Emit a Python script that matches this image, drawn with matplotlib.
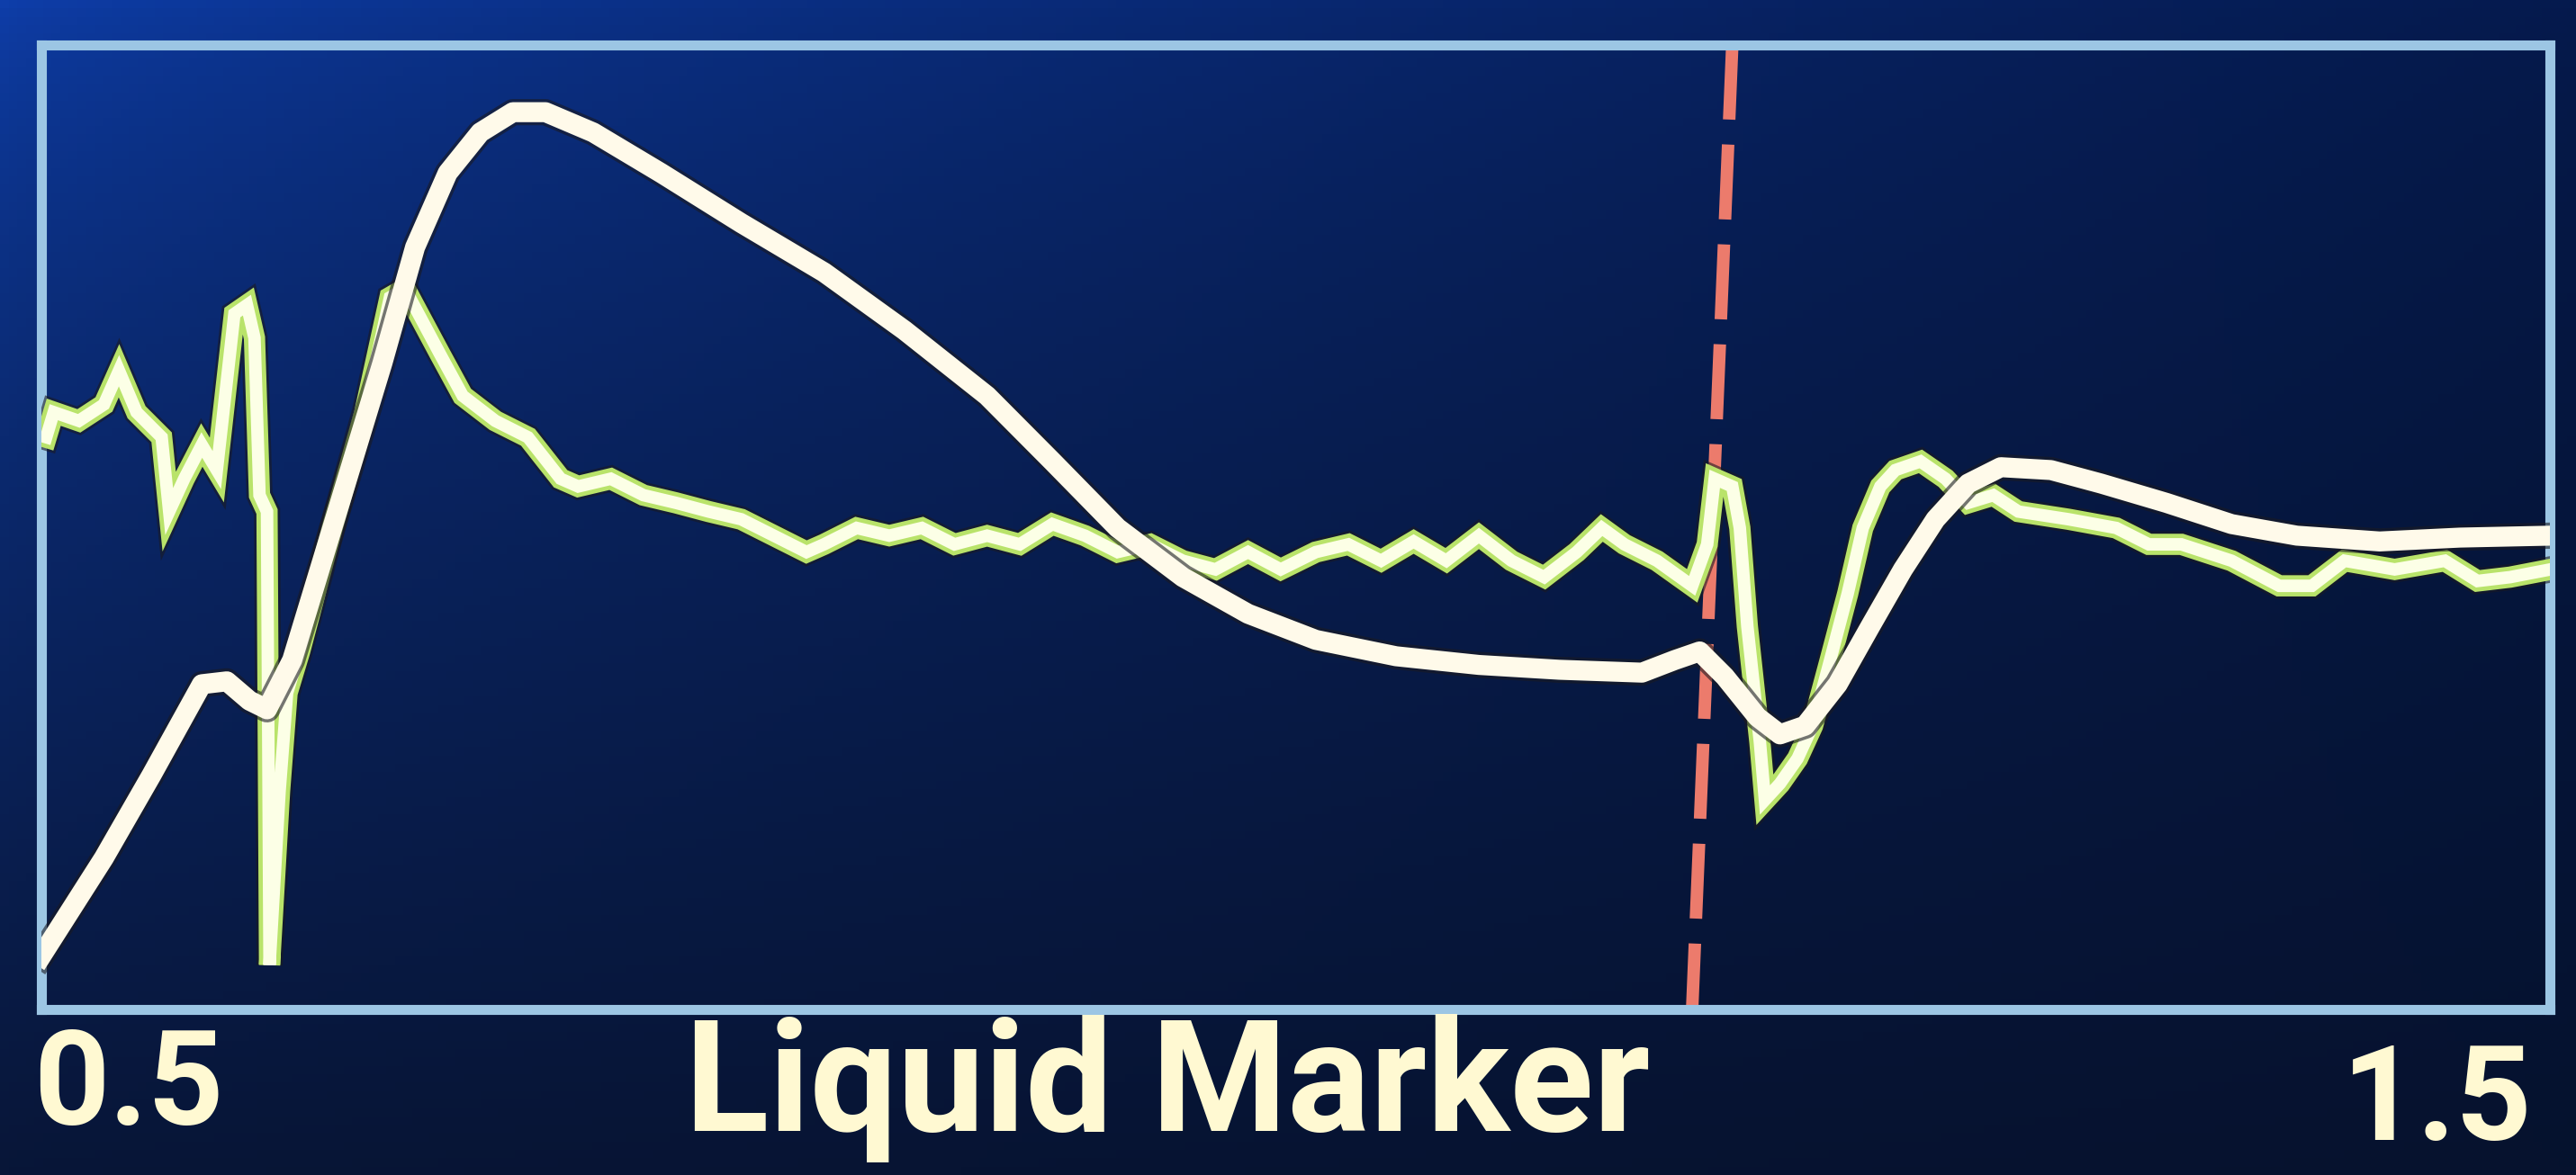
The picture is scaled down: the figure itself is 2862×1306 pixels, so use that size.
import matplotlib.pyplot as plt
import matplotlib.patheffects as pe
import numpy as np

# smooth reference trace (cream white)
ref_x = [0.500, 0.525, 0.544, 0.564, 0.574, 0.583, 0.590, 0.600, 0.616, 0.636,
         0.649, 0.662, 0.675, 0.688, 0.701, 0.720, 0.747, 0.779, 0.812, 0.844,
         0.877, 0.903, 0.929, 0.955, 0.981, 1.008, 1.040, 1.073, 1.105, 1.138,
         1.151, 1.161, 1.171, 1.184, 1.193, 1.203, 1.216, 1.229, 1.242, 1.255,
         1.268, 1.281, 1.301, 1.321, 1.347, 1.373, 1.399, 1.432, 1.464, 1.500]
ref_y = [5.5, 15.7, 24.3, 33.7, 34.0, 32.0, 31.1, 36.2, 49.9, 67.0,
         79.0, 86.7, 90.9, 93.0, 93.0, 90.9, 86.7, 81.5, 76.4, 70.4,
         63.6, 56.8, 49.9, 44.8, 41.0, 38.3, 36.6, 35.7, 35.2, 34.9,
         36.2, 37.1, 34.5, 30.3, 28.5, 29.4, 33.7, 39.7, 45.6, 50.8,
         54.5, 56.2, 55.9, 54.5, 52.5, 50.3, 49.1, 48.5, 48.9, 49.1]

# noisy live trace (green edged)
live_x = [0.502, 0.505, 0.515, 0.525, 0.531, 0.538, 0.548, 0.551, 0.557, 0.564,
          0.570, 0.577, 0.582, 0.585, 0.587, 0.590, 0.591, 0.595, 0.598, 0.603,
          0.616, 0.629, 0.639, 0.645, 0.652, 0.659, 0.668, 0.681, 0.694, 0.707,
          0.714, 0.727, 0.740, 0.753, 0.766, 0.779, 0.792, 0.805, 0.812, 0.825,
          0.838, 0.851, 0.864, 0.877, 0.890, 0.903, 0.916, 0.929, 0.942, 0.955,
          0.968, 0.981, 0.994, 1.008, 1.021, 1.034, 1.047, 1.060, 1.073, 1.086,
          1.099, 1.112, 1.122, 1.131, 1.144, 1.158, 1.164, 1.167, 1.174, 1.177,
          1.180, 1.185, 1.187, 1.193, 1.200, 1.206, 1.213, 1.220, 1.226, 1.233,
          1.239, 1.249, 1.259, 1.268, 1.278, 1.288, 1.308, 1.327, 1.340, 1.353,
          1.373, 1.392, 1.405, 1.418, 1.438, 1.458, 1.471, 1.484, 1.500]
live_y = [59.3, 61.9, 61.0, 62.7, 66.2, 61.9, 59.3, 51.6, 55.0, 58.5,
          55.9, 72.1, 73.0, 69.6, 53.3, 51.6, 4.6, 22.6, 32.8, 37.1,
          49.9, 61.9, 73.8, 74.7, 71.3, 67.9, 63.6, 61.0, 59.3, 55.0,
          54.2, 55.0, 53.3, 52.5, 51.6, 50.8, 49.1, 47.4, 48.2, 49.9,
          49.1, 49.9, 48.2, 49.1, 48.2, 50.3, 49.1, 47.4, 48.2, 46.5,
          45.6, 47.4, 45.6, 47.4, 48.2, 46.5, 48.5, 46.5, 49.1, 46.5,
          44.8, 47.4, 49.9, 48.2, 46.5, 43.9, 48.2, 55.0, 54.2, 49.9,
          39.7, 27.7, 21.7, 23.4, 26.0, 29.4, 36.2, 43.1, 49.9, 54.2,
          55.9, 56.8, 55.0, 52.5, 53.3, 51.6, 50.8, 49.9, 48.2, 48.2,
          46.5, 43.9, 43.9, 46.5, 45.6, 46.5, 44.4, 44.8, 45.6]

# liquid marker position (top, bottom) - the screen is photographed slightly skewed
marker_x = [1.174, 1.158]
marker_y = [100, 0]

fig = plt.figure(figsize=(28.62, 13.06), dpi=100)

# screen background, brighter blue towards top left
bg = fig.add_axes([0, 0, 1, 1])
tl = np.array([14, 62, 170]) / 255
tr = np.array([5, 26, 78]) / 255
bl = np.array([8, 22, 56]) / 255
br = np.array([6, 18, 46]) / 255
u = np.linspace(0, 1, 300)[None, :, None] ** 0.7
v = np.linspace(0, 1, 140)[:, None, None] ** 0.7
img = (1 - v) * ((1 - u) * tl + u * tr) + v * ((1 - u) * bl + u * br)
bg.imshow(img, aspect='auto', extent=[0, 1, 0, 1], origin='upper')
bg.axis('off')

ax = fig.add_axes([0.016, 0.141, 0.974, 0.821])
ax.set_facecolor('none')
ax.set_xlim(0.5, 1.5)
ax.set_ylim(0, 100)
ax.set_xticks([])
ax.set_yticks([])
for s in ax.spines.values():
    s.set_color('#9cc6e4')
    s.set_linewidth(8)

dark = [pe.Stroke(linewidth=21, foreground='#1a1a22', alpha=0.6), pe.Normal()]

ax.plot(marker_x, marker_y, color='#ec7b6c', lw=10, dashes=(6, 2), zorder=2)
ax.plot(live_x, live_y, color='#b9e36a', lw=17, zorder=3,
        solid_joinstyle='miter', path_effects=dark)
ax.plot(live_x, live_y, color='#fcffe6', lw=10, zorder=3, solid_joinstyle='miter')
ax.plot(ref_x, ref_y, color='#fffaea', lw=16, zorder=4, path_effects=dark)

txt = dict(color='#fff9d2', fontfamily='Roboto', fontweight='bold',
           transform=ax.get_xaxis_transform(), va='center')
ax.text(0.497, -0.082, '0.5', ha='left', fontsize=106, **txt)
ax.text(0.949, -0.082, 'Liquid Marker', ha='center', fontsize=124, **txt)
ax.text(1.493, -0.098, '1.5', ha='right', fontsize=106, **txt)

fig.savefig('out.png', dpi=100)
